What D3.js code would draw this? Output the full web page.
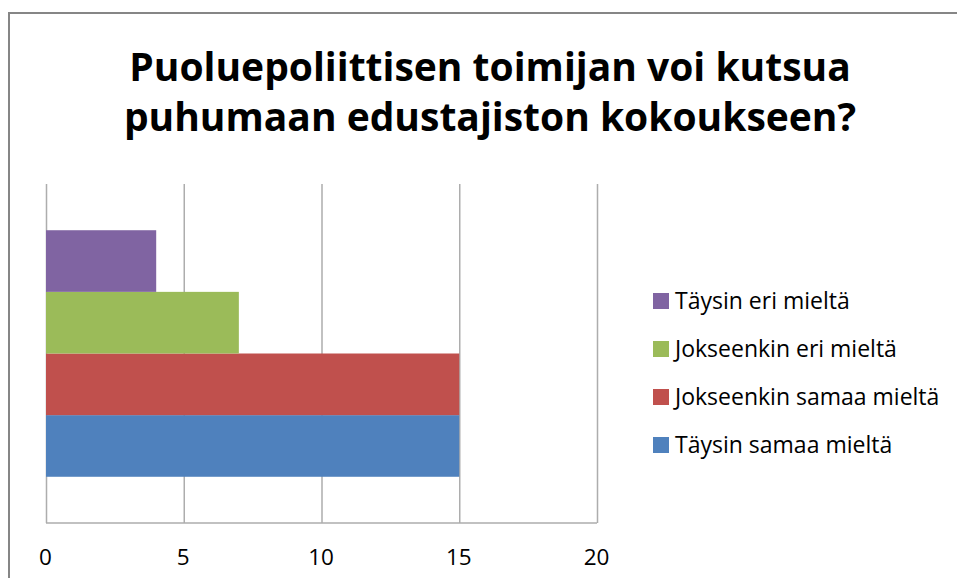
<!DOCTYPE html>
<html>
<head>
<meta charset="utf-8">
<script src="https://cdn.jsdelivr.net/npm/d3@7"></script>
<style>
  body { margin: 0; background: #fff; }
  svg { display: block; font-family: "Open Sans", Lato, sans-serif; }
</style>
</head>
<body>
<div id="chart"></div>
<script>
// Chart data
const titleLines = ["Puoluepoliittisen toimijan voi kutsua", "puhumaan edustajiston kokoukseen?"];
const categories = [""];
const seriesNames = ["Täysin samaa mieltä", "Jokseenkin samaa mieltä", "Jokseenkin eri mieltä", "Täysin eri mieltä"];
const seriesValues = [15, 15, 7, 4];
const seriesColors = ["#4f81bd", "#c0504d", "#9bbb59", "#8064a2"];
const xTicks = [0, 5, 10, 15, 20];

const W = 957, H = 578;
const plot = { left: 46, right: 597, top: 184, bottom: 523 };

const svg = d3.select("#chart").append("svg")
  .attr("width", W)
  .attr("height", H);

// outer chart border (runs past the right/bottom edges)
svg.append("rect")
  .attr("x", 9).attr("y", 13)
  .attr("width", 980).attr("height", 600)
  .attr("fill", "#fff")
  .attr("stroke", "#868686")
  .attr("stroke-width", 2);

// Title
svg.append("g")
  .selectAll("text")
  .data(titleLines)
  .enter()
  .append("text")
  .attr("x", 490)
  .attr("y", (d, i) => 81 + i * 50)
  .attr("text-anchor", "middle")
  .attr("font-size", 39)
  .attr("font-weight", "bold")
  .attr("fill", "#000")
  .text(d => d);

// Scales
const x = d3.scaleLinear()
  .domain([0, 20])
  .range([plot.left, plot.right]);

const y = d3.scaleBand()
  .domain(categories)
  .range([plot.top, plot.bottom])
  .paddingInner(0)
  .paddingOuter(0.1875);

// first series drawn at the bottom, as in the original
const ySeries = d3.scaleBand()
  .domain(seriesNames)
  .range([y.bandwidth(), 0]);

// Gridlines + tick labels
const xAxis = d3.axisBottom(x)
  .tickValues(xTicks)
  .tickSize(-(plot.bottom - plot.top))
  .tickPadding(26);

const axisG = svg.append("g")
  .attr("transform", `translate(0,${plot.bottom})`)
  .call(xAxis);
axisG.select(".domain").remove();
axisG.selectAll(".tick line")
  .attr("stroke", "#adadad")
  .attr("stroke-width", 1.5);
axisG.selectAll(".tick text")
  .attr("font-family", "'Open Sans', sans-serif")
  .attr("font-size", 22.5)
  .attr("dx", -1)
  .attr("fill", "#000");

// bottom border of plot area
svg.append("line")
  .attr("x1", plot.left).attr("x2", plot.right)
  .attr("y1", plot.bottom).attr("y2", plot.bottom)
  .attr("stroke", "#adadad")
  .attr("stroke-width", 1.5);

// Bars
const bars = seriesNames.map((name, i) => ({ name, value: seriesValues[i], color: seriesColors[i], cat: categories[0] }));

svg.append("g")
  .selectAll("rect")
  .data(bars)
  .enter()
  .append("rect")
  .attr("x", x(0))
  .attr("y", d => y(d.cat) + ySeries(d.name))
  .attr("width", d => x(d.value) - x(0))
  .attr("height", ySeries.bandwidth())
  .attr("fill", d => d.color);

// Legend (reverse order, top = last series)
const legend = svg.append("g")
  .attr("transform", "translate(653,301)");

const legendItems = legend.selectAll("g")
  .data(bars.slice().reverse())
  .enter()
  .append("g")
  .attr("transform", (d, i) => `translate(0,${i * 48})`);

legendItems.append("rect")
  .attr("x", 0).attr("y", -8)
  .attr("width", 16).attr("height", 16)
  .attr("fill", d => d.color);

legendItems.append("text")
  .attr("x", 22)
  .attr("y", 8)
  .attr("font-size", 23)
  .attr("fill", "#000")
  .text(d => d.name);
</script>
</body>
</html>
